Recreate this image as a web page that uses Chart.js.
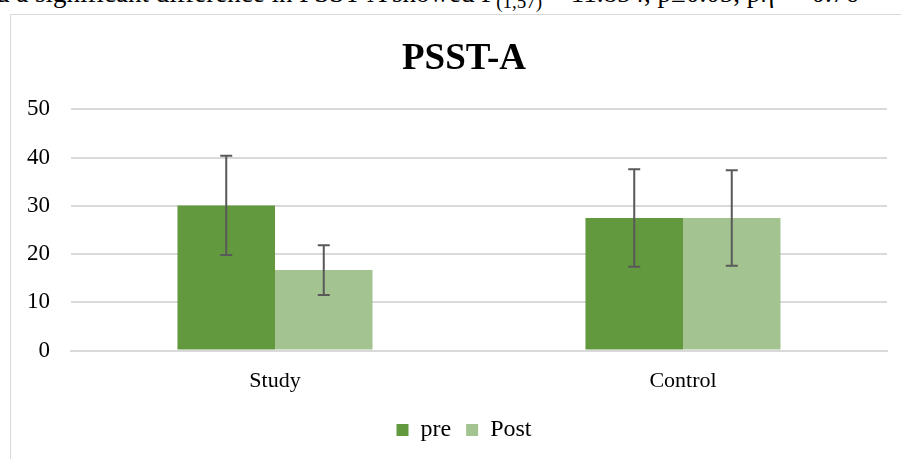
<!DOCTYPE html>
<html>
<head>
<meta charset="utf-8">
<script src="https://cdn.jsdelivr.net/npm/chart.js@4.4.0/dist/chart.umd.min.js"></script>
<style>
  body { margin: 0; width: 901px; height: 459px; overflow: hidden; background: #fff; position: relative; font-family: "Liberation Serif", "Times New Roman", serif; }
  #caption { position: absolute; left: -4px; top: -23px; font-size: 27px; color: #000; white-space: nowrap; }
  #frame { position: absolute; left: 10px; top: 14px; width: 906px; height: 470px; border: 1px solid #d9d9d9; box-sizing: border-box; background: #fff; }
  #wrap { position: absolute; left: 1px; top: 1px; width: 893px; height: 460px; }
</style>
</head>
<body>
<div id="caption">d a significant difference in PSST-A showed F<sub style="font-size:19px">(1,57)</sub> = 11.854, p≤0.05, pη<sup style="font-size:17px">2</sup> = 0.76</div>
<div id="frame"><div id="wrap"><canvas id="chart"></canvas></div></div>
<script>
// PSST-A pre / post means with error bars
const groups = ['Study', 'Control'];
const preValues = [30.1, 27.5];
const postValues = [16.7, 27.5];
const preErrors = [10.3, 10.1];
const postErrors = [5.15, 9.9];
const yTicks = [0, 10, 20, 30, 40, 50];

const errorBarPlugin = {
    id: 'errorBars',
    afterDatasetsDraw(chart) {
        const ctx = chart.ctx;
        const y = chart.scales.y;
        chart.data.datasets.forEach((ds, i) => {
            const meta = chart.getDatasetMeta(i);
            meta.data.forEach((bar, j) => {
                const v = ds.data[j], e = ds.errors[j];
                const top = y.getPixelForValue(v + e);
                const bot = y.getPixelForValue(v - e);
                ctx.save();
                ctx.strokeStyle = '#595959';
                ctx.lineWidth = 2;
                ctx.beginPath();
                ctx.moveTo(bar.x, top); ctx.lineTo(bar.x, bot);
                ctx.moveTo(bar.x - 6, top); ctx.lineTo(bar.x + 6, top);
                ctx.moveTo(bar.x - 6, bot); ctx.lineTo(bar.x + 6, bot);
                ctx.stroke();
                ctx.restore();
            });
        });
    }
};

new Chart(document.getElementById('chart'), {
    type: 'bar',
    data: {
        labels: groups,
        datasets: [
            { label: 'pre', data: preValues, errors: preErrors, backgroundColor: '#62993e' },
            { label: 'Post', data: postValues, errors: postErrors, backgroundColor: '#a3c490' }
        ]
    },
    options: {
        responsive: true,
        maintainAspectRatio: false,
        animation: false,
        layout: { padding: { left: 11, right: 0, top: 0, bottom: 24 } },
        datasets: { bar: { categoryPercentage: 0.478, barPercentage: 1 } },
        plugins: {
            title: {
                display: true, text: 'PSST-A', color: '#000',
                font: { family: 'Liberation Serif', size: 37, weight: 'bold' },
                padding: { top: 21, bottom: 28 }
            },
            legend: {
                position: 'bottom',
                labels: {
                    color: '#000', boxWidth: 12, boxHeight: 12, padding: 15,
                    font: { family: 'Liberation Serif', size: 24 }
                }
            },
            tooltip: { enabled: false }
        },
        scales: {
            x: {
                grid: { display: false },
                border: { color: '#d9d9d9', width: 2 },
                ticks: { color: '#000', font: { family: 'Liberation Serif', size: 22 }, padding: 9 }
            },
            y: {
                min: 0, max: 50,
                afterBuildTicks: s => { s.ticks = yTicks.map(v => ({ value: v })); },
                afterFit: s => { s.width = 48; },
                grid: { color: '#d9d9d9', lineWidth: 2, drawTicks: false },
                border: { display: false },
                ticks: { color: '#000', font: { family: 'Liberation Serif', size: 23 }, padding: 21 }
            },
            // empty spacer on the right so the plot ends where the reference does
            yRight: {
                position: 'right', display: true,
                afterFit: s => { s.width = 18; },
                grid: { display: false }, border: { display: false }, ticks: { display: false }
            }
        }
    },
    plugins: [errorBarPlugin]
});
</script>
</body>
</html>
